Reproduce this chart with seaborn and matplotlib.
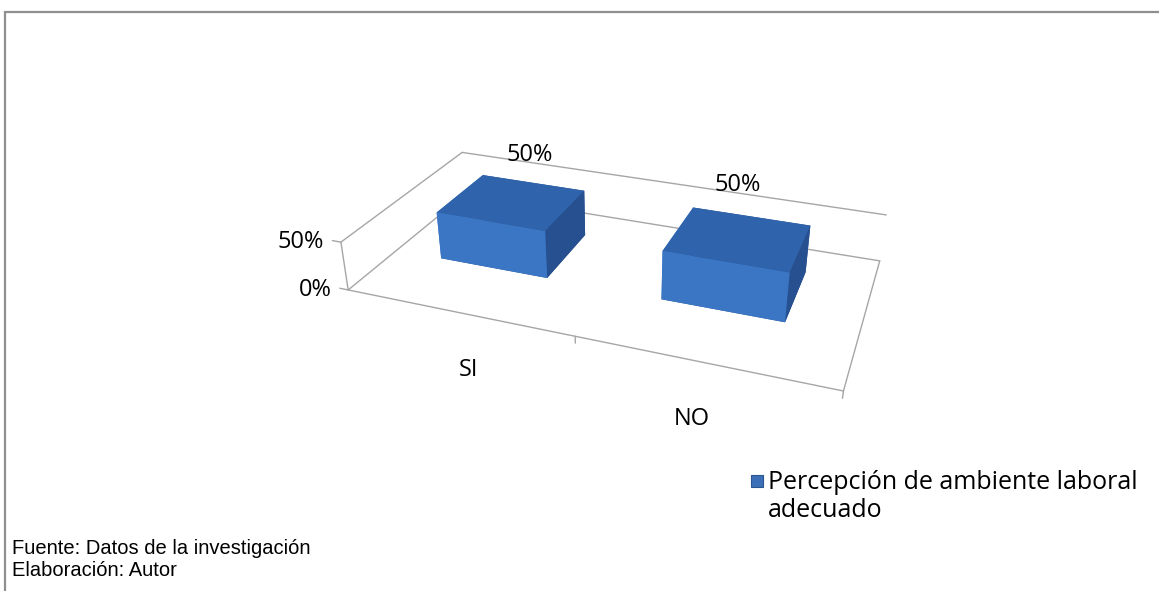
import matplotlib

matplotlib.use("Agg")

import matplotlib.pyplot as plt
import numpy as np
import seaborn as sns
from matplotlib.patches import Rectangle

categories = ["SI", "NO"]
values = [0.50, 0.50]
value_labels = ["50%", "50%"]
z_ticks = [0.0, 0.5]
z_tick_labels = ["0%", "50%"]
series_name = "Percepción de ambiente laboral\nadecuado"
source_lines = ["Fuente: Datos de la investigación", "Elaboración: Autor"]

BAR_FRONT = "#3a76c4"
BAR_TOP = "#2f63ab"
BAR_SIDE = "#26508f"
FRAME = "#a6a6a6"
LABEL_FONT = ["Open Sans", "DejaVu Sans"]
ARIAL = ["Liberation Sans", "DejaVu Sans"]

sns.set_theme(style="white")
plt.rcParams["font.family"] = LABEL_FONT

fig = plt.figure(figsize=(11.59, 5.91), dpi=100)

# outer border of the chart area
fig.add_artist(Rectangle((5 / 1159, -0.1), 1.2, 1.1 - 12 / 591,
                         transform=fig.transFigure, fill=False,
                         edgecolor="#8f8f8f", linewidth=1.6))

size = 600
cx, cy = 613, 260
ax = fig.add_axes([(cx - size / 2) / 1159, (591 - cy - size / 2) / 591,
                   size / 1159, size / 591],
                  projection="3d", computed_zorder=False)
ax.set_proj_type("persp", focal_length=0.3)
ax.view_init(elev=28, azim=-69.8)
ax.set_box_aspect((520, 260, 57), zoom=0.88)

xmin, xmax = -0.5, len(categories) - 0.5
ymin, ymax = 0.0, 1.0
zmin, zmax = 0.0, max(values)
ax.set_xlim(xmin, xmax)
ax.set_ylim(ymin, ymax)
ax.set_zlim(zmin, zmax)
ax.set_axis_off()

# floor and walls
edges = [
    [(xmin, xmin), (ymin, ymin), (zmin, zmax)],
    [(xmin, xmin), (ymin, ymax), (zmax, zmax)],
    [(xmin, xmin), (ymin, ymax), (zmin, zmin)],
    [(xmin, xmax), (ymin, ymin), (zmin, zmin)],
    [(xmax, xmax), (ymin, ymax), (zmin, zmin)],
    [(xmin, xmax), (ymax, ymax), (zmin, zmin)],
    [(xmin, xmax), (ymax, ymax), (zmax, zmax)],
]
for ex, ey, ez in edges:
    ax.plot(ex, ey, ez, color=FRAME, linewidth=1.0, zorder=1)

# tick marks
for z in z_ticks:
    ax.plot([xmin - 0.04, xmin], [ymin, ymin], [z, z], color=FRAME, linewidth=1.0, zorder=1)
for x in np.arange(xmin + 1, xmax + 0.01, 1.0):
    ax.plot([x, x], [ymin, ymin], [zmin, zmin - 0.07], color=FRAME, linewidth=1.0, zorder=1)

# bars
bar_w, bar_d = 0.5, 0.42
xs = np.arange(len(categories)) - bar_w / 2 - 0.03
ys = np.full(len(categories), 0.58 - bar_d / 2)
face_colors = []
for _ in categories:
    face_colors += [BAR_SIDE, BAR_TOP, BAR_FRONT, BAR_SIDE, BAR_FRONT, BAR_SIDE]
ax.bar3d(xs, ys, np.zeros(len(categories)), bar_w, bar_d, values,
         color=face_colors, shade=False, edgecolor="none", zorder=2)

# labels
for i, (cat, lab) in enumerate(zip(categories, value_labels)):
    ax.text(i - 0.14, ymax, values[i] + 0.09, lab, ha="center", va="center",
            fontsize=17, color="black", zorder=3)
    ax.text(i - 0.09, 0.2, -0.97, cat, ha="center", va="center",
            fontsize=17, color="black", zorder=3)
for z, lab in zip(z_ticks, z_tick_labels):
    ax.text(xmin - 0.08, ymin, z, lab, ha="right", va="center_baseline",
            fontsize=17, color="black", zorder=3)

# legend
fig.add_artist(Rectangle((751 / 1159, 1 - 487 / 591), 12 / 1159, 12 / 591,
                         transform=fig.transFigure, facecolor="#3b70b8",
                         edgecolor="#2a5590", linewidth=0.8))
fig.text(768 / 1159, 1 - 470 / 591, series_name, ha="left", va="top",
         fontsize=18, color="black", linespacing=1.15)

fig.text(12 / 1159, 1 - 548 / 591, source_lines[0], ha="left", va="center",
         fontsize=14.5, family=ARIAL, color="black")
fig.text(12 / 1159, 1 - 570 / 591, source_lines[1], ha="left", va="center",
         fontsize=14.5, family=ARIAL, color="black")

fig.savefig("out.png", dpi=100)
